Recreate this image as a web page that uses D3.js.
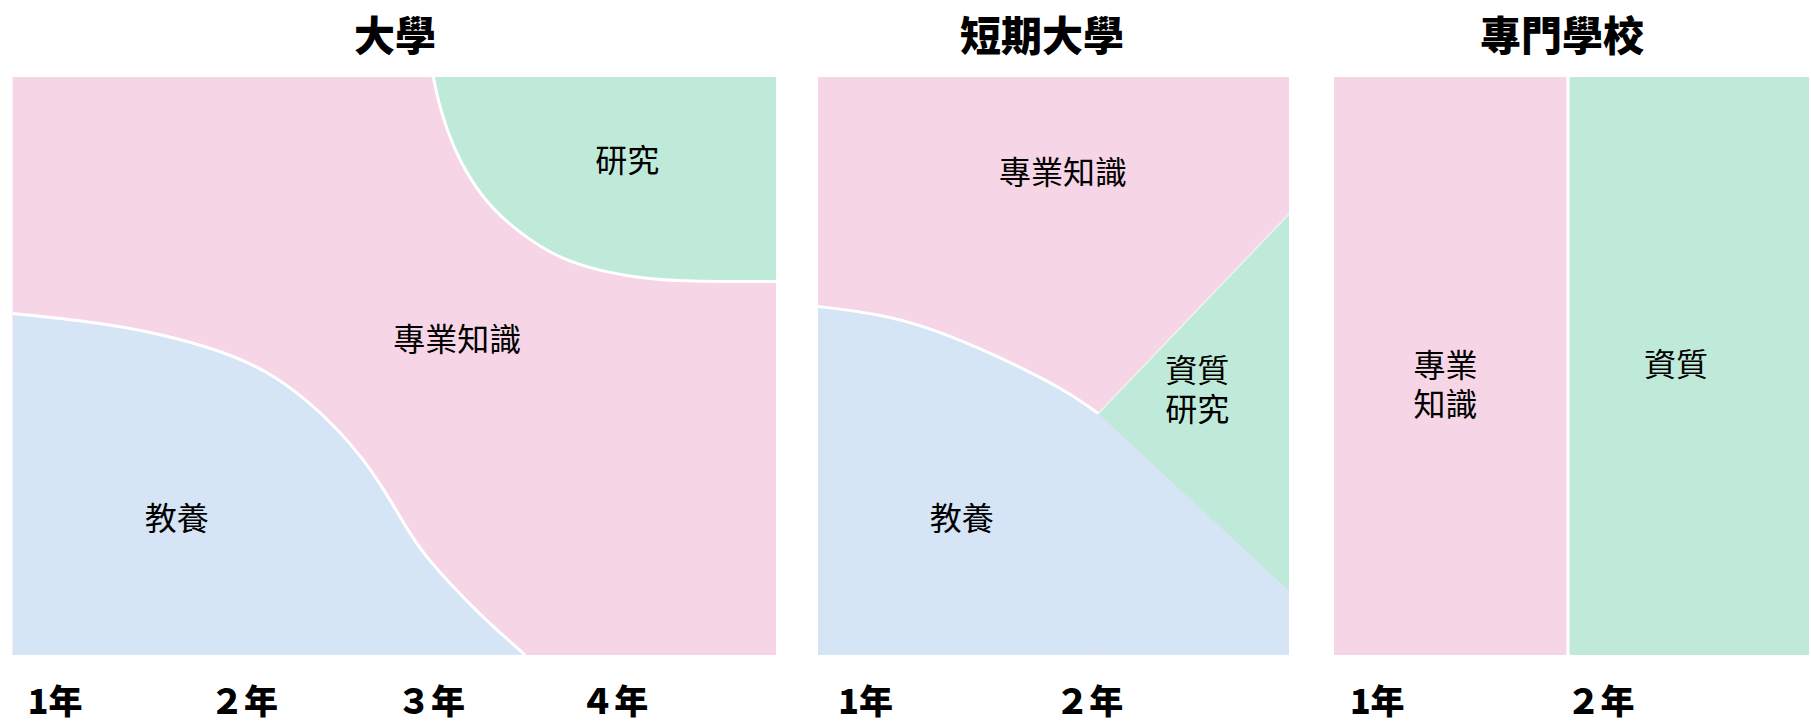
<!DOCTYPE html>
<html>
<head>
<meta charset="utf-8">
<script src="https://cdn.jsdelivr.net/npm/d3@7"></script>
<style>
  body { margin: 0; background: #fff; }
  svg text { font-family: "Noto Sans CJK TC", "Noto Sans CJK SC", sans-serif; fill: #000; }
</style>
</head>
<body>
<div id="chart"></div>
<script>
// panel titles
var titles = ["大學", "短期大學", "專門學校"];

// year labels and where they sit (in years from the start)
var uniYears = ["1年", "２年", "３年", "４年"];
var uniTickPos = [0.22, 1.21, 2.19, 3.15];
var juniorYears = ["1年", "２年"];
var juniorTickPos = [0.2, 1.15];
var vocYears = ["1年", "２年"];
var vocTickPos = [0.18, 1.12];

// 大學: top edge of 教養 [year, share from bottom]
var uniLiberal = [[0, 0.591], [0.494, 0.574], [0.870, 0.548], [1.149, 0.519], [1.338, 0.490],
                  [1.525, 0.446], [1.710, 0.389], [1.841, 0.337], [1.936, 0.291], [2.030, 0.239],
                  [2.124, 0.187], [2.271, 0.130], [2.460, 0.066], [2.685, 0]];
// 大學: lower edge of 研究 [year, share from bottom]
var uniResearch = [[2.204, 1.0], [2.240, 0.943], [2.308, 0.879], [2.397, 0.822], [2.517, 0.770],
                   [2.659, 0.730], [2.832, 0.692], [3.008, 0.670], [3.270, 0.652], [3.533, 0.646],
                   [4.0, 0.646]];

// 短期大學: top edge of 教養 (curved part, then straight part)
var juniorLiberal = [[0, 0.603], [0.249, 0.591], [0.462, 0.568], [0.674, 0.533], [0.886, 0.493],
                     [1.070, 0.453], [1.19, 0.418]];
var juniorLiberalTail = [[1.19, 0.418], [2.0, 0.111]];
// 短期大學: 資質・研究 wedge, lower and upper edge
var juniorQualLow = [[1.19, 0.418], [2.0, 0.111]];
var juniorQualHigh = [[1.19, 0.418], [2.0, 0.763]];

// 專門學校: blocks [kind, from year, to year]
var vocBlocks = [["knowledge", 0, 0.985], ["quality", 0.985, 2]];

// area labels [lines, year, share from bottom]
var uniLabels = [[["研究"], 3.22, 0.86], [["專業知識"], 2.33, 0.55], [["教養"], 0.86, 0.24]];
var juniorLabels = [[["專業知識"], 1.04, 0.839], [["資質", "研究"], 1.61, 0.462], [["教養"], 0.61, 0.24]];
var vocLabels = [[["專業", "知識"], 0.47, 0.472], [["資質"], 1.44, 0.507]];

var colors = { knowledge: "#f5d5e6", liberal: "#d5e5f5", quality: "#bfeada" };

var W = 1811, H = 722;
var plotTop = 77, plotBottom = 655;

var svg = d3.select("#chart").append("svg")
  .attr("width", W)
  .attr("height", H);

var panels = [
  { left: 12.7, right: 776, years: 4, titleX: 395, ticks: uniTickPos, tickLabels: uniYears, labels: uniLabels },
  { left: 818, right: 1289, years: 2, titleX: 1042, ticks: juniorTickPos, tickLabels: juniorYears, labels: juniorLabels },
  { left: 1334, right: 1809, years: 2, titleX: 1562, ticks: vocTickPos, tickLabels: vocYears, labels: vocLabels }
];

var y = d3.scaleLinear().domain([0, 1]).range([plotBottom, plotTop]);
var smooth = d3.curveBasis;

panels.forEach(function(p, i) {
  p.x = d3.scaleLinear().domain([0, p.years]).range([p.left, p.right]);
  p.g = svg.append("g");

  // title
  svg.append("text")
    .attr("x", p.titleX)
    .attr("y", 33)
    .attr("text-anchor", "middle")
    .attr("dominant-baseline", "central")
    .style("font-size", "41px")
    .style("font-weight", 900)
    .text(titles[i]);
});

// --- 大學
(function() {
  var p = panels[0], x = p.x;
  p.g.append("rect")
    .attr("x", x(0)).attr("y", y(1))
    .attr("width", x(4) - x(0)).attr("height", y(0) - y(1))
    .attr("fill", colors.knowledge);

  var liberalArea = d3.area()
    .x(function(d) { return x(d[0]); })
    .y0(y(0))
    .y1(function(d) { return y(d[1]); })
    .curve(smooth);
  p.g.append("path").datum(uniLiberal)
    .attr("d", liberalArea).attr("fill", colors.liberal);

  var researchArea = d3.area()
    .x(function(d) { return x(d[0]); })
    .y0(y(1))
    .y1(function(d) { return y(d[1]); })
    .curve(smooth);
  p.g.append("path").datum(uniResearch)
    .attr("d", researchArea).attr("fill", colors.quality);

  var edge = d3.line()
    .x(function(d) { return x(d[0]); })
    .y(function(d) { return y(d[1]); })
    .curve(smooth);
  p.g.append("path").datum(uniLiberal)
    .attr("d", edge).attr("fill", "none").attr("stroke", "#fff").attr("stroke-width", 3);
  p.g.append("path").datum(uniResearch)
    .attr("d", edge).attr("fill", "none").attr("stroke", "#fff").attr("stroke-width", 3);
})();

// --- 短期大學
(function() {
  var p = panels[1], x = p.x;
  p.g.append("rect")
    .attr("x", x(0)).attr("y", y(1))
    .attr("width", x(2) - x(0)).attr("height", y(0) - y(1))
    .attr("fill", colors.knowledge);

  var liberalArea = d3.area()
    .x(function(d) { return x(d[0]); })
    .y0(y(0))
    .y1(function(d) { return y(d[1]); });
  p.g.append("path").datum(juniorLiberal)
    .attr("d", liberalArea.curve(smooth)).attr("fill", colors.liberal);
  p.g.append("path").datum(juniorLiberalTail)
    .attr("d", liberalArea.curve(d3.curveLinear)).attr("fill", colors.liberal);

  var qualArea = d3.area()
    .x(function(d) { return x(d[0]); })
    .y0(function(d, j) { return y(juniorQualLow[j][1]); })
    .y1(function(d) { return y(d[1]); });
  p.g.append("path").datum(juniorQualHigh)
    .attr("d", qualArea).attr("fill", colors.quality);

  var edge = d3.line()
    .x(function(d) { return x(d[0]); })
    .y(function(d) { return y(d[1]); });
  p.g.append("path").datum(juniorLiberal)
    .attr("d", edge.curve(smooth))
    .attr("fill", "none").attr("stroke", "#fff").attr("stroke-width", 3);
  p.g.append("path").datum(juniorQualHigh)
    .attr("d", edge.curve(d3.curveLinear))
    .attr("fill", "none").attr("stroke", "#fff").attr("stroke-opacity", 0.6).attr("stroke-width", 1.5);
})();

// --- 專門學校
(function() {
  var p = panels[2], x = p.x;
  p.g.selectAll("rect.block").data(vocBlocks).enter().append("rect")
    .attr("class", "block")
    .attr("x", function(d) { return x(d[1]); })
    .attr("y", y(1))
    .attr("width", function(d) { return x(d[2]) - x(d[1]); })
    .attr("height", y(0) - y(1))
    .attr("fill", function(d) { return colors[d[0]]; });
  p.g.append("line")
    .attr("x1", x(vocBlocks[1][1])).attr("x2", x(vocBlocks[1][1]))
    .attr("y1", y(1)).attr("y2", y(0))
    .attr("stroke", "#fff").attr("stroke-width", 3);
})();

// area labels and year axes
panels.forEach(function(p) {
  p.labels.forEach(function(l) {
    var t = p.g.append("text")
      .attr("text-anchor", "middle")
      .style("font-size", "32px");
    var n = l[0].length;
    l[0].forEach(function(s, k) {
      t.append("tspan")
        .attr("x", p.x(l[1]))
        .attr("y", y(l[2]) + (k - (n - 1) / 2) * 39)
        .attr("dominant-baseline", "central")
        .text(s);
    });
  });

  var axis = d3.axisBottom(p.x)
    .tickValues(p.ticks)
    .tickFormat(function(d, j) { return p.tickLabels[j]; })
    .tickSize(0);
  var ax = svg.append("g")
    .attr("transform", "translate(0," + 699 + ")")
    .call(axis);
  ax.select(".domain").remove();
  ax.selectAll("text")
    .attr("y", 0).attr("dy", null)
    .attr("dominant-baseline", "central")
    .style("font-size", "34px")
    .style("font-weight", 900)
    .style("font-family", '"Noto Sans CJK TC", sans-serif')
    .attr("fill", "#000");
});
</script>
</body>
</html>
